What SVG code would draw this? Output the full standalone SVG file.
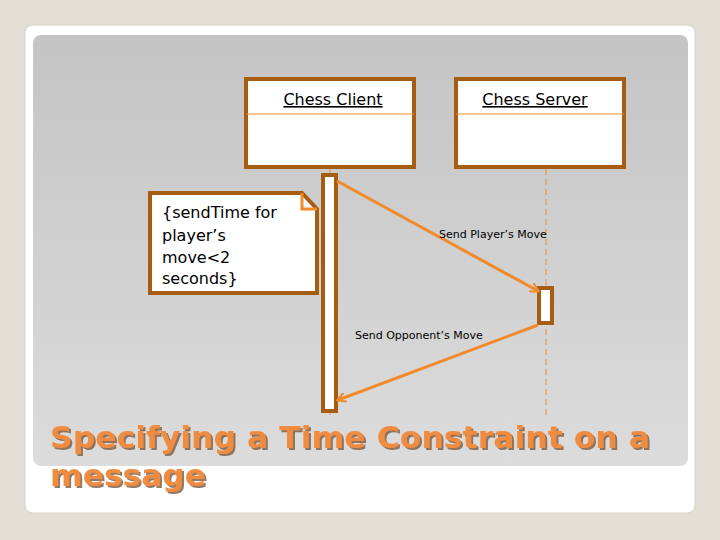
<svg xmlns="http://www.w3.org/2000/svg" width="720" height="540" viewBox="0 0 720 540">
<defs>
<linearGradient id="bg" x1="0" y1="0" x2="0" y2="1"><stop offset="0" stop-color="#c4c4c4"/><stop offset="1" stop-color="#dcdcdc"/></linearGradient>
<filter id="sh" x="-5%" y="-20%" width="110%" height="140%"><feDropShadow dx="2" dy="2" stdDeviation="0.5" flood-color="#7a5a40" flood-opacity="0.8"/></filter>
<marker id="ah" markerWidth="10" markerHeight="10" refX="8" refY="5" orient="auto" markerUnits="userSpaceOnUse"><path d="M0,0 L9,5 L0,10" fill="none" stroke="#f08a2a" stroke-width="2"/></marker>
<style>
.box{fill:#fff;stroke:#a65d12;stroke-width:4}
.t{font-family:"DejaVu Sans",sans-serif;fill:#000}
.m{stroke:#f08a2a;stroke-width:3;fill:none}
</style>
</defs>
<rect width="720" height="540" fill="#e4dfd6"/>
<rect x="25" y="25" width="670" height="488" rx="8" fill="#fff" stroke="#d8d4cc"/>
<rect x="33" y="35" width="655" height="431" rx="8" fill="url(#bg)"/>
<g id="client"><rect class="box" x="246" y="79" width="168" height="88"/><line x1="246" y1="114" x2="414" y2="114" stroke="#f08a2a" stroke-width="1"/><text class="t" x="333" y="105" font-size="16" text-anchor="middle" text-decoration="underline">Chess Client</text></g>
<g id="server"><rect class="box" x="456" y="79" width="168" height="88"/><line x1="456" y1="114" x2="624" y2="114" stroke="#f08a2a" stroke-width="1"/><text class="t" x="535" y="105" font-size="16" text-anchor="middle" text-decoration="underline">Chess Server</text></g>
<line x1="546" y1="169" x2="546" y2="418" stroke="#f08a2a" stroke-dasharray="6,4" stroke-width="1"/>
<line x1="330" y1="169" x2="330" y2="418" stroke="#f08a2a" stroke-dasharray="6,4" stroke-width="1"/>
<g id="note"><path class="box" d="M150,193 H302 L317,209 V293 H150 Z"/><path d="M302,193 V209 H317" fill="none" stroke="#f08a2a" stroke-width="3"/>
<text class="t" font-size="16"><tspan x="162" y="218">{sendTime  for</tspan><tspan x="162" y="241">player’s</tspan><tspan x="162" y="263">move&lt;2</tspan><tspan x="162" y="284">seconds}</tspan></text></g>
<g id="clientAct"><rect class="box" x="323" y="175" width="13" height="236"/></g>
<g id="serverAct"><rect class="box" x="539" y="288" width="13" height="35"/></g>
<g id="connectors">
<line class="m" x1="337" y1="181" x2="538" y2="291" marker-end="url(#ah)"/>
<line class="m" x1="538" y1="325" x2="338" y2="400" marker-end="url(#ah)"/>
<text class="t" x="439" y="238" font-size="11">Send  Player’s Move</text>
<text class="t" x="355" y="339" font-size="11">Send Opponent’s Move</text>
</g>
<g font-family="Verdana,'DejaVu Sans',sans-serif" font-weight="bold" font-size="30" fill="#f08c40" filter="url(#sh)">
<text x="50" y="448" textLength="600" lengthAdjust="spacingAndGlyphs">Specifying a Time Constraint on a</text>
<text x="50" y="486" textLength="156" lengthAdjust="spacingAndGlyphs">message</text>
</g>
</svg>
